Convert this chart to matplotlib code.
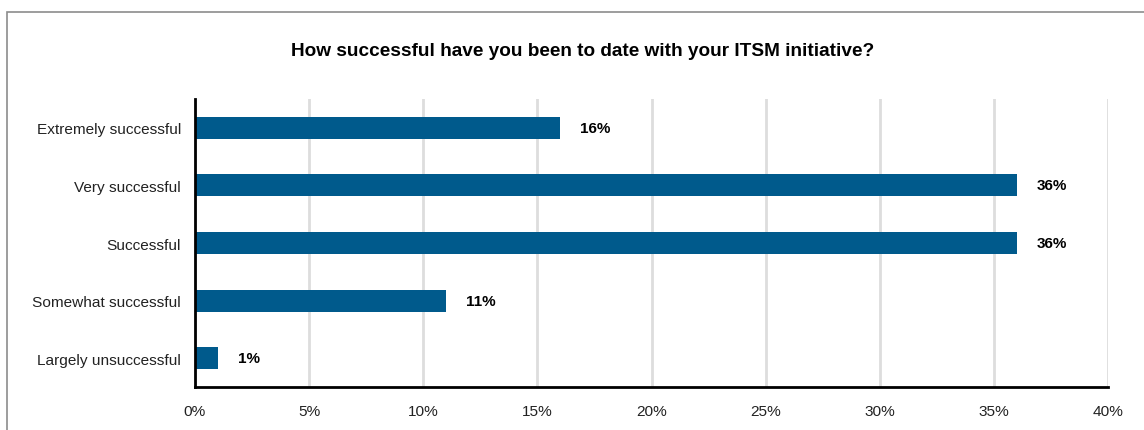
import matplotlib
matplotlib.use('agg')
import matplotlib.pyplot as plt
from matplotlib.patches import Rectangle
from matplotlib.ticker import FuncFormatter

categories = ['Extremely successful', 'Very successful', 'Successful',
              'Somewhat successful', 'Largely unsuccessful']
values = [16, 36, 36, 11, 1]
labels = ['16%', '36%', '36%', '11%', '1%']
xticks = [0, 5, 10, 15, 20, 25, 30, 35, 40]

plt.rcParams['font.family'] = ['Liberation Sans', 'DejaVu Sans']

fig = plt.figure(figsize=(11.44, 4.31), dpi=100)
ax = fig.add_axes([195 / 1144, 1 - 388 / 431, 913 / 1144, 288 / 431])

# outer frame (runs off the right and bottom edges)
fig.patches.append(Rectangle((7 / 1144, -0.1), 1.2, 1 - 13 / 431 + 0.1,
                             transform=fig.transFigure, fill=False,
                             edgecolor='#8c8c8c', linewidth=1.2))

y = range(len(categories))
ax.barh(y, values, height=0.38, color='#005a8c', zorder=3)
for yi, v, lab in zip(y, values, labels):
    ax.annotate(lab, (v, yi), xytext=(14.5, 0), textcoords='offset points',
                va='center', ha='left', fontsize=11, fontweight='bold')

ax.set_xlim(0, 40)
ax.set_ylim(4.5, -0.5)
ax.set_xticks(xticks)
ax.xaxis.set_major_formatter(FuncFormatter(lambda v, p: '%d%%' % v))
ax.set_yticks(list(y))
ax.set_yticklabels(categories)
ax.tick_params(length=0, labelsize=11.1, colors='#222222', pad=10)
ax.tick_params(axis='x', pad=12)
ax.grid(axis='x', color='#dddddd', linewidth=2, zorder=0)
for s in ['top', 'right']:
    ax.spines[s].set_visible(False)
for s in ['left', 'bottom']:
    ax.spines[s].set_linewidth(2)
    ax.spines[s].set_zorder(4)

fig.text(583 / 1144, 1 - 52 / 431, 'How successful have you been to date with your ITSM initiative?',
         ha='center', va='center', fontsize=13.7, fontweight='bold')

plt.savefig('out.png', dpi=100)
